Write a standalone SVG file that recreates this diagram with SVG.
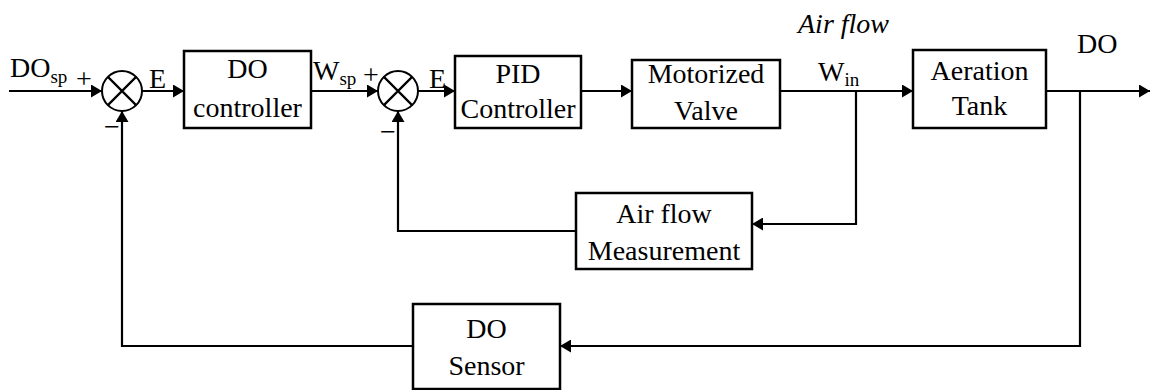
<svg xmlns="http://www.w3.org/2000/svg" width="1150" height="390" viewBox="0 0 1150 390">
<style>
.box{fill:#fff;stroke:#000;stroke-width:2.5}
.sum{fill:#fff;stroke:#000;stroke-width:2}
.ln{fill:none;stroke:#000;stroke-width:2.2}
.t{font-family:"Liberation Serif","Times New Roman",serif;font-size:28px;fill:#000}
.c{text-anchor:middle}
.sub{font-size:19px}
.it{font-style:italic}
.sg{font-size:28px}
</style>
<defs>
<marker id="arr" markerUnits="userSpaceOnUse" markerWidth="11" markerHeight="13" viewBox="0 0 11 13" refX="11" refY="6.5" orient="auto">
<path d="M0,0 L11,6.5 L0,13 z" fill="#000"/>
</marker>
</defs>
<rect width="1150" height="390" fill="#fff"/>
<g id="connectors">
<path class="ln" d="M9 91 H102" marker-end="url(#arr)"/>
<path class="ln" d="M142 91 H184" marker-end="url(#arr)"/>
<path class="ln" d="M311 91 H378" marker-end="url(#arr)"/>
<path class="ln" d="M418 91 H455" marker-end="url(#arr)"/>
<path class="ln" d="M581 91 H632" marker-end="url(#arr)"/>
<path class="ln" d="M780 91 H913" marker-end="url(#arr)"/>
<path class="ln" d="M1046 91 H1150" marker-end="url(#arr)"/>
<path class="ln" d="M856 91 V224 H752" marker-end="url(#arr)"/>
<path class="ln" d="M576 231 H398 V111" marker-end="url(#arr)"/>
<path class="ln" d="M1080 91 V346 H560" marker-end="url(#arr)"/>
<path class="ln" d="M413 346 H122 V111" marker-end="url(#arr)"/>
</g>
<g id="sum1">
<circle class="sum" cx="122" cy="91" r="20"/>
<path class="ln" stroke-width="1.8" d="M107.9 76.9 L136.1 105.1 M136.1 76.9 L107.9 105.1"/>
</g>
<g id="sum2">
<circle class="sum" cx="398" cy="91" r="20"/>
<path class="ln" stroke-width="1.8" d="M383.9 76.9 L412.1 105.1 M412.1 76.9 L383.9 105.1"/>
</g>
<g id="do-controller">
<rect class="box" x="184" y="51" width="127" height="77"/>
<text class="t c" x="247.5" y="78">DO</text>
<text class="t c" x="247.5" y="117">controller</text>
</g>
<g id="pid-controller">
<rect class="box" x="455" y="56" width="126" height="72"/>
<text class="t c" x="518" y="83">PID</text>
<text class="t c" x="518" y="118">Controller</text>
</g>
<g id="motorized-valve">
<rect class="box" x="632" y="60" width="148" height="68"/>
<text class="t c" x="706" y="83">Motorized</text>
<text class="t c" x="706" y="120">Valve</text>
</g>
<g id="aeration-tank">
<rect class="box" x="913" y="50" width="133" height="78"/>
<text class="t c" x="979.5" y="80">Aeration</text>
<text class="t c" x="979.5" y="115">Tank</text>
</g>
<g id="airflow-measurement">
<rect class="box" x="576" y="193" width="176" height="76"/>
<text class="t c" x="664" y="223">Air flow</text>
<text class="t c" x="664" y="260">Measurement</text>
</g>
<g id="do-sensor">
<rect class="box" x="413" y="304" width="147" height="85"/>
<text class="t c" x="486.5" y="338">DO</text>
<text class="t c" x="486.5" y="375">Sensor</text>
</g>
<g id="labels">
<text class="t" x="10" y="77">DO<tspan class="sub" dy="6">sp</tspan></text>
<text class="t" x="76" y="88">+</text>
<text class="t sg" x="104" y="136">−</text>
<text class="t" x="149" y="88">E</text>
<text class="t" x="313" y="80">W<tspan class="sub" dy="5">sp</tspan></text>
<text class="t" x="363" y="84">+</text>
<text class="t sg" x="380" y="141">−</text>
<text class="t" x="429" y="88">E</text>
<text class="t it" x="798" y="33">Air flow</text>
<text class="t" x="818" y="81">W<tspan class="sub" dy="5">in</tspan></text>
<text class="t" x="1077" y="53">DO</text>
</g>
</svg>
